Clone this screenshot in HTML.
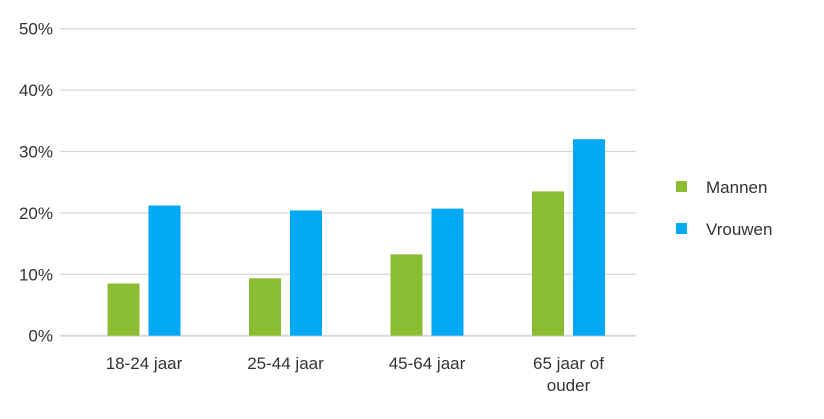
<!DOCTYPE html>
<html><head><meta charset="utf-8"><style>
body{margin:0;background:#fff;width:824px;height:414px;overflow:hidden}
text{font-family:"Liberation Sans",sans-serif;fill:#333}
</style></head><body>
<svg id="chart" width="824" height="414" xmlns="http://www.w3.org/2000/svg"></svg>
<script>
const categories=[["18-24 jaar"],["25-44 jaar"],["45-64 jaar"],["65 jaar of","ouder"]];
const mannen=[8.5,9.35,13.25,23.5];
const vrouwen=[21.2,20.4,20.7,32.0];
const ticks=[0,10,20,30,40,50];
const tickLabels=["0%","10%","20%","30%","40%","50%"];
const NS="http://www.w3.org/2000/svg";
const svg=document.getElementById('chart');
const y0=335.7,pxPer=6.14;
const y=v=>y0-v*pxPer;
const cx=i=>144+i*141.5;
function mk(t,a){const e=document.createElementNS(NS,t);for(const k in a)e.setAttribute(k,a[k]);svg.appendChild(e);return e;}
ticks.forEach((t,i)=>{
  const l=mk('line',{x1:60,x2:636,y1:y(t),y2:y(t),stroke:'#d9d9d9','stroke-width':t===0?2:1.3});
  
  
  const tx=mk('text',{x:53,y:y(t)+6,'text-anchor':'end','font-size':17});
  tx.textContent=tickLabels[i];
  
  
});
categories.forEach((c,i)=>{
  const g=mk('rect',{x:cx(i)-36.5,y:y(mannen[i]),width:32,height:y0-y(mannen[i]),fill:'#8abd31'});
  
  
  const b=mk('rect',{x:cx(i)+4.5,y:y(vrouwen[i]),width:32,height:y0-y(vrouwen[i]),fill:'#03a9f4'});
  
  
  c.forEach((line,j)=>{
    const t=mk('text',{x:cx(i),y:369+j*22,'text-anchor':'middle','font-size':17});
    t.textContent=line;
    
    
  });
});
[["Mannen","#8abd31",187],["Vrouwen","#03a9f4",229]].forEach(([n,col,yy])=>{
  const r=mk('rect',{x:676,y:yy-6,width:11,height:11,fill:col});
  
  
  const t=mk('text',{x:706,y:yy+6,'font-size':17});
  t.textContent=n;
  
  
});
</script>
</body></html>
